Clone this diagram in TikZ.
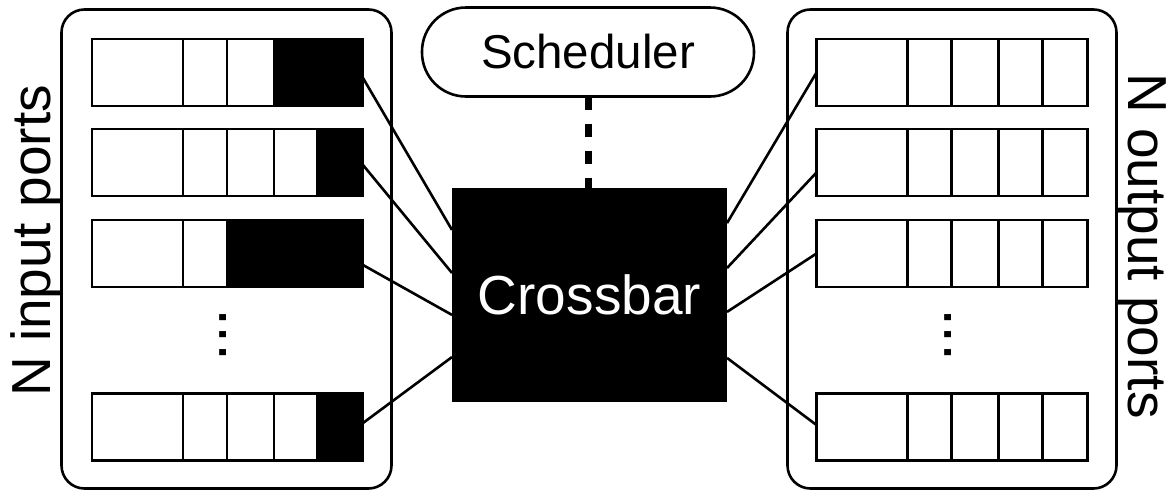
\documentclass[tikz,border=0pt]{standalone}
\usepackage{fontspec}
\setmainfont{Liberation Sans}
\usetikzlibrary{calc}

\begin{document}
\begin{tikzpicture}[x=0.5pt,y=-0.5pt]

\tikzset{
  frame/.style = {draw, line width=1.3pt, rounded corners=11.5pt,
                  inner sep=0pt, outer sep=0pt},
  queue/.style = {draw, line width=1.3pt, minimum width=135.5pt,
                  minimum height=33.5pt, inner sep=0pt, outer sep=0pt},
  wire/.style  = {line width=1.3pt},
  ctrl/.style  = {line width=3.5pt, dash pattern=on 6.5pt off 7pt},
  xbar/.style  = {fill=black, text=white, minimum width=137.5pt,
                  minimum height=107pt, inner sep=0pt, outer sep=0pt,
                  font=\fontsize{27.5}{30}\selectfont},
  sched/.style = {draw, line width=1.3pt, rounded corners=22pt,
                  minimum width=166pt, minimum height=44.5pt, inner sep=0pt,
                  outer sep=0pt, font=\fontsize{23.75}{26}\selectfont},
  side/.style  = {font=\fontsize{27.5}{30}\selectfont, inner sep=0pt},
  more/.style  = {font=\fontsize{32}{34}\selectfont, inner sep=0pt},
}

\useasboundingbox (0,0) rectangle (1169,493);

% port groups
\node[frame, minimum width=165pt, minimum height=239.5pt] (inframe) at (226.5,249) {};
\node[frame, minimum width=164.5pt, minimum height=239.5pt] (outframe) at (952,249) {};

% input queues, black cells are occupied
\foreach \q/\yc/\cut in {qin1/72.5/182, qin2/162.5/225.5, qin3/253.5/135, qin4/427/225.5}
{
  \node[queue] (\q) at (227.5,\yc) {};
  \fill ([xshift=\cut*0.5pt]\q.north west) rectangle (\q.south east);
  \foreach \k in {91,135,182,225.5}
    \draw[wire] ([xshift=\k*0.5pt]\q.north west) -- ([xshift=\k*0.5pt]\q.south west);
}

% output queues
\foreach \q/\yc in {qout1/72.5, qout2/162.5, qout3/253.5, qout4/427}
{
  \node[queue] (\q) at (952,\yc) {};
  \foreach \k in {91,135,182,226}
    \draw[wire] ([xshift=\k*0.5pt]\q.north west) -- ([xshift=\k*0.5pt]\q.south west);
}

\node[more, rotate=90] (inmore) at (223,335) {...};
\node[more, rotate=90] (outmore) at (948,335) {...};

\node[xbar] (xbar) at (589.5,295) {Crossbar};
\node[sched] (sched) at (588,52) {Scheduler};
\draw[ctrl] (sched.south) -- (sched.south |- xbar.north);

% links into and out of the crossbar
\foreach \q/\dy/\f in {qin1/-2.75/0.196, qin2/-1.25/0.397, qin3/-5.75/0.593, qin4/2/0.79}
  \draw[wire] ([yshift=\dy pt]\q.east) -- ($(xbar.north west)!\f!(xbar.south west)$);
\foreach \q/\dy/\f in {qout1/0/0.164, qout2/-5/0.374, qout3/0/0.579, qout4/1/0.794}
  \draw[wire] ($(xbar.north east)!\f!(xbar.south east)$) -- ([yshift=\dy pt]\q.west);

\node[side, rotate=90, anchor=base] (inlbl) at (50,241) {N input ports};
\node[side, rotate=-90, anchor=base] (outlbl) at (1128,246) {N output ports};
\end{tikzpicture}
\end{document}
